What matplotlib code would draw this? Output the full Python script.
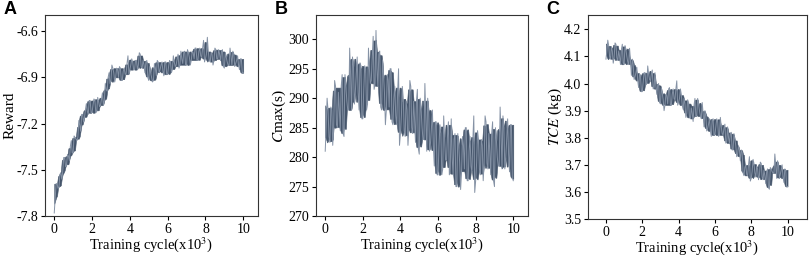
import matplotlib

matplotlib.use("Agg")
import matplotlib.pyplot as plt
import numpy as np
import pandas as pd

# training cycle (x10^3): samples every 100 cycles, plus the readings in between
cycle = np.round(np.arange(0, 101) * 0.1, 2)
cycle_mid = np.round(np.arange(0, 100) * 0.1 + 0.05, 2)

# panel A: reward
reward = [
    -7.78, -7.59, -7.62, -7.53, -7.56, -7.42, -7.48, -7.40, -7.44, -7.31,
    -7.39, -7.29, -7.31, -7.18, -7.25, -7.14, -7.16, -7.07, -7.14, -7.05,
    -7.13, -7.04, -7.13, -7.03, -7.09, -7.04, -7.08, -6.94, -6.99, -6.87,
    -6.92, -6.84, -6.93, -6.84, -6.90, -6.84, -6.92, -6.84, -6.88, -6.76,
    -6.85, -6.78, -6.85, -6.79, -6.85, -6.74, -6.83, -6.79, -6.87, -6.79,
    -6.92, -6.87, -6.93, -6.81, -6.89, -6.80, -6.85, -6.80, -6.89, -6.80,
    -6.88, -6.79, -6.87, -6.76, -6.83, -6.78, -6.84, -6.73, -6.81, -6.73,
    -6.82, -6.74, -6.82, -6.73, -6.78, -6.71, -6.79, -6.71, -6.77, -6.66,
    -6.78, -6.64, -6.79, -6.74, -6.82, -6.71, -6.78, -6.72, -6.79, -6.72,
    -6.84, -6.77, -6.82, -6.71, -6.82, -6.75, -6.81, -6.76, -6.85, -6.78,
    -6.87,
]
reward_mid = [
    -7.68, -7.59, -7.61, -7.52, -7.51, -7.42, -7.47, -7.41, -7.35, -7.39,
    -7.28, -7.30, -7.29, -7.21, -7.14, -7.19, -7.11, -7.12, -7.05, -7.13,
    -7.08, -7.05, -7.12, -7.06, -7.08, -7.00, -7.05, -6.98, -6.90, -6.94,
    -6.82, -6.87, -6.90, -6.85, -6.83, -6.92, -6.86, -6.88, -6.81, -6.88,
    -6.82, -6.80, -6.85, -6.79, -6.82, -6.75, -6.84, -6.82, -6.80, -6.90,
    -6.83, -6.90, -6.92, -6.84, -6.79, -6.87, -6.82, -6.86, -6.80, -6.88,
    -6.83, -6.80, -6.85, -6.80, -6.82, -6.75, -6.82, -6.78, -6.74, -6.82,
    -6.72, -6.77, -6.79, -6.74, -6.71, -6.79, -6.73, -6.76, -6.71, -6.80,
    -6.75, -6.73, -6.80, -6.75, -6.79, -6.72, -6.78, -6.75, -6.73, -6.83,
    -6.74, -6.80, -6.82, -6.76, -6.73, -6.83, -6.79, -6.82, -6.78, -6.87,
]

# panel B: Cmax (s)
cmax = [
    281, 290, 283.5, 288.5, 282, 293, 285.5, 291, 284.5, 294,
    283.5, 292, 288, 298.5, 288, 295.5, 291, 297, 288, 295.5,
    286.5, 295.5, 288, 298.5, 292.5, 297, 291.5, 301.5, 292, 298,
    288, 294, 285.5, 294, 288.5, 295, 285.5, 292, 285.5, 295,
    284, 292, 284.5, 289.5, 282, 293, 285, 289.5, 282.5, 291.5,
    280.5, 288, 283, 292.5, 281, 288, 282.5, 288, 278.5, 286,
    277, 285.5, 277, 287, 279.5, 283.5, 277, 286.5, 277, 284,
    275, 282, 274.5, 283.5, 278, 285, 276, 283.5, 277.5, 287,
    276, 284.5, 278, 283, 276, 287, 279, 284, 277, 286,
    275, 283, 278.5, 288.5, 278, 285, 280, 286.5, 277.5, 285.5,
    276,
]
cmax_mid = [
    285, 288, 282.5, 288, 285, 292, 285, 288, 292, 284,
    294, 289.5, 288, 294, 297, 289, 294, 291, 296, 286.5,
    291.5, 295, 289, 295, 293, 300.5, 292.5, 295, 297.5, 288.5,
    296.5, 291, 288, 293, 295, 286, 290, 287, 291, 282,
    287, 290, 283.5, 288, 285, 292, 284, 286.5, 289.5, 281.5,
    290, 285, 283, 287, 290, 281, 285, 282, 286, 277,
    282, 284, 278, 283, 279.5, 286, 278, 280, 283, 275,
    284, 279, 277.5, 282, 285, 276, 281, 278.5, 283, 274,
    279, 283, 277, 282, 279, 286, 278, 281, 284, 276,
    285, 280, 278.5, 284, 287, 278, 283, 280.5, 285.5, 276.5,
]

# panel C: TCE (kg)
tce = [
    4.09, 4.16, 4.10, 4.135, 4.075, 4.15, 4.095, 4.12, 4.07, 4.145,
    4.07, 4.125, 4.08, 4.13, 4.03, 4.07, 4.025, 4.06, 3.985, 4.03,
    3.97, 4.04, 3.995, 4.065, 4.015, 4.035, 3.98, 4.04, 3.96, 4.00,
    3.925, 3.965, 3.90, 3.96, 3.925, 3.985, 3.92, 3.98, 3.94, 4.01,
    3.93, 3.98, 3.92, 3.945, 3.875, 3.94, 3.875, 3.91, 3.86, 3.945,
    3.88, 3.925, 3.88, 3.93, 3.84, 3.88, 3.835, 3.87, 3.805, 3.87,
    3.81, 3.87, 3.805, 3.875, 3.815, 3.835, 3.78, 3.84, 3.78, 3.82,
    3.755, 3.795, 3.73, 3.77, 3.715, 3.745, 3.66, 3.70, 3.66, 3.73,
    3.65, 3.72, 3.67, 3.695, 3.645, 3.71, 3.655, 3.68, 3.63, 3.685,
    3.61, 3.685, 3.67, 3.74, 3.65, 3.70, 3.665, 3.70, 3.635, 3.68,
    3.62,
]
tce_mid = [
    4.12, 4.14, 4.09, 4.12, 4.095, 4.145, 4.085, 4.10, 4.125, 4.075,
    4.14, 4.10, 4.07, 4.085, 4.09, 4.015, 4.04, 4.01, 4.035, 3.97,
    4.005, 4.04, 4.00, 4.035, 4.01, 4.05, 3.985, 3.99, 3.995, 3.93,
    3.985, 3.94, 3.92, 3.955, 3.98, 3.92, 3.96, 3.945, 3.98, 3.92,
    3.945, 3.96, 3.905, 3.925, 3.89, 3.93, 3.87, 3.89, 3.92, 3.88,
    3.945, 3.90, 3.87, 3.89, 3.90, 3.825, 3.85, 3.825, 3.865, 3.81,
    3.84, 3.86, 3.81, 3.84, 3.81, 3.85, 3.785, 3.80, 3.815, 3.755,
    3.815, 3.77, 3.74, 3.755, 3.755, 3.67, 3.69, 3.665, 3.70, 3.64,
    3.675, 3.705, 3.655, 3.685, 3.66, 3.705, 3.645, 3.66, 3.675, 3.615,
    3.69, 3.675, 3.67, 3.70, 3.715, 3.65, 3.68, 3.655, 3.685, 3.62,
]

x_ticks = [0, 2, 4, 6, 8, 10]
reward_ticks = [-7.8, -7.5, -7.2, -6.9, -6.6]
cmax_ticks = [270, 275, 280, 285, 290, 295, 300]
tce_ticks = [3.5, 3.6, 3.7, 3.8, 3.9, 4.0, 4.1, 4.2]


def merge(on_step, between):
    """Put the in-between readings back in time order."""
    xs = np.empty(len(cycle) + len(cycle_mid))
    ys = np.empty_like(xs)
    xs[0::2], xs[1::2] = cycle, cycle_mid
    ys[0::2], ys[1::2] = on_step, between
    return xs, ys


plt.rcParams["font.family"] = ["Liberation Serif", "DejaVu Serif"]
plt.rcParams["mathtext.fontset"] = "stix"

CORE = "#45556b"
SPIKE = "#8592a5"
XLABEL = "Training cycle(x10$^3$)"

fig = plt.figure(figsize=(8.09, 2.56), dpi=100)
ax_a = fig.add_axes([0.0556, 0.156, 0.2633, 0.785])
ax_b = fig.add_axes([0.3906, 0.156, 0.2620, 0.785])
ax_c = fig.add_axes([0.7268, 0.1445, 0.2707, 0.797])

panels = [
    (ax_a, reward, reward_mid, reward_ticks, (-7.8, -6.496), (-0.49, 10.78), "Reward", "%.1f", "A"),
    (ax_b, cmax, cmax_mid, cmax_ticks, (270, 304.1), (-0.49, 10.78), "$C$max(s)", "%d", "B"),
    (ax_c, tce, tce_mid, tce_ticks, (3.5, 4.253), (-0.99, 11.07), "$TCE$ (kg)", "%.1f", "C"),
]

for ax, vals, mids, yt, ylim, xlim, ylab, fmt, letter in panels:
    xs, ys = merge(vals, mids)
    # full trace in a pale tone (the spikes), busiest part of it darker on top
    ax.plot(xs, ys, color=SPIKE, linewidth=0.7)
    s = pd.Series(ys)
    lo = s.rolling(7, center=True, min_periods=1).quantile(0.2)
    hi = s.rolling(7, center=True, min_periods=1).quantile(0.8)
    ax.fill_between(xs, lo, hi, color=CORE, linewidth=0.4, edgecolor=CORE)
    ax.set_xlim(*xlim)
    ax.set_ylim(*ylim)
    ax.set_xticks(x_ticks)
    ax.set_yticks(yt)
    ax.set_yticklabels([fmt % v for v in yt])
    ax.set_xlabel(XLABEL, fontsize=10.5, labelpad=-1)
    ax.set_ylabel(ylab, fontsize=11, labelpad=0)
    ax.tick_params(direction="out", length=3, width=0.8, labelsize=10, pad=2)
    for sp in ax.spines.values():
        sp.set_linewidth(0.8)
        sp.set_color("#333333")
    pos = ax.get_position()
    fig.text(pos.x0 - 0.051, 0.995, letter, ha="left", va="top",
             fontsize=13, fontweight="bold", family="Liberation Sans")

fig.savefig("out.png", dpi=100)
